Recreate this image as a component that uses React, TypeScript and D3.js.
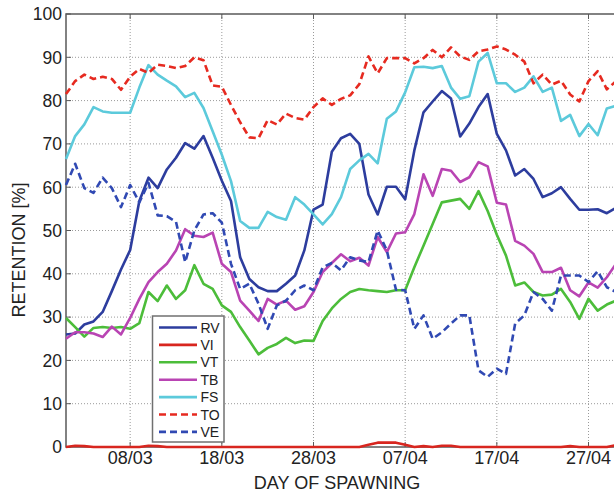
import * as d3 from "d3";

// day index 0 = 01/03, one value per day up to 30/04
const TICK_DAYS = [7, 17, 27, 37, 47, 57];
const TICK_LABELS = ["08/03", "18/03", "28/03", "07/04", "17/04", "27/04"];
const Y_TICKS = [0, 10, 20, 30, 40, 50, 60, 70, 80, 90, 100];

const RV = [26, 26.2, 28.3, 29, 31.2, 36, 41, 45.5, 56.8, 62.2, 59.8, 64.1, 66.8, 70.2, 68.9, 71.8, 66.8, 61.5, 56.8, 43.8, 38.8, 36.9, 36, 36, 37.7, 39.6, 45.4, 54.8, 56, 68.2, 71.3, 72.3, 70, 58.3, 53.7, 60.1, 60.1, 57.2, 68.5, 77.3, 79.8, 82.2, 80.5, 71.7, 74.7, 78.5, 81.5, 72.3, 68.5, 62.7, 64.2, 61.9, 57.7, 58.6, 60, 57.3, 54.8, 54.8, 54.9, 54, 55.2];
const VI = [0, 0.3, 0.2, 0, 0, 0, 0, 0, 0, 0.3, 0.2, 0, 0, 0, 0, 0, 0, 0, 0, 0, 0, 0, 0, 0, 0, 0, 0, 0, 0, 0, 0, 0, 0, 0.5, 1, 1, 1, 0.5, 0, 0.2, 0, 0.3, 0.3, 0, 0, 0, 0, 0, 0, 0, 0, 0, 0, 0, 0, 0.2, 0, 0, 0, 0, 0.4];
const VT = [29.8, 27.7, 25.5, 27.5, 27.7, 27.5, 27.7, 27.3, 28.6, 35.8, 33.7, 37.3, 34.2, 36.2, 42, 37.7, 36.5, 32.7, 31.2, 27.7, 24.6, 21.4, 22.9, 23.8, 25.2, 24, 24.6, 24.5, 29.1, 32, 34.2, 35.8, 36.5, 36.2, 36, 35.8, 36.2, 36.2, 41.5, 46.5, 51.5, 56.5, 56.9, 57.3, 55, 59.1, 54.5, 49, 44.2, 37.3, 38, 35.8, 35, 35.2, 36.5, 33.5, 29.6, 34.2, 31.5, 32.9, 33.8];
const TB = [25, 26.5, 26.5, 26.2, 25.4, 27.8, 26, 29.8, 34.2, 38.1, 40.4, 42.3, 45.4, 50.3, 48.8, 48.5, 49.5, 42.3, 40.4, 33.8, 31.5, 29.1, 34.2, 32.9, 33.8, 31.7, 32.5, 35.8, 40.4, 42.5, 44.5, 42.9, 43.7, 41.9, 48.5, 45, 49.3, 49.6, 53.8, 63, 58, 64.2, 63.8, 61.2, 62.3, 65.8, 64.8, 56.4, 56, 47.6, 46.5, 44.6, 40.4, 40.4, 41.4, 36.2, 34.8, 38, 36.8, 39.2, 42.3];
const FS = [66.5, 71.8, 74.5, 78.5, 77.5, 77.2, 77.2, 77.2, 83, 88.2, 86, 84.6, 83.3, 80.8, 81.8, 78.3, 72.9, 67.5, 61.4, 52.2, 50.6, 50.6, 54.3, 53.1, 52.5, 57.7, 56, 53.7, 51.4, 53.8, 57.7, 64.2, 66.2, 67.7, 65.5, 75.8, 77.5, 81.9, 87.7, 87.8, 87.5, 88, 83, 80.4, 81, 89, 91, 84, 84, 82, 83, 85.6, 82, 83, 75.3, 76.7, 71.8, 74.6, 72, 78.2, 78.8];
const TO = [81.5, 84.5, 86, 85, 85.5, 85, 82.5, 85.5, 87.3, 86.4, 88.3, 88, 87.5, 88, 90, 89.3, 83.5, 83.2, 79, 75, 71.5, 71.3, 75.5, 74.5, 77, 76, 75.6, 78.5, 80.5, 79, 80.4, 81.2, 83.8, 90.2, 86.3, 89.8, 89.8, 89.8, 88.6, 89.8, 91.7, 90, 92.3, 90.2, 89.4, 91.4, 91.8, 92.5, 91.8, 90.6, 89, 84, 86, 83.7, 84.6, 81.4, 79.8, 84.5, 86.8, 82.6, 84.5];
const VE = [60.5, 65.4, 59.8, 58.7, 62.2, 59.8, 55.4, 60.5, 56.5, 61, 53.5, 53.3, 52, 42.7, 50, 53.7, 54, 51.8, 42.3, 36.5, 37.7, 33.1, 27.3, 32.7, 33.8, 36.2, 37.3, 36.2, 41.5, 42.5, 40.8, 43.8, 43.1, 42.7, 50, 45.4, 36.3, 36.2, 27.3, 30.4, 25, 26.5, 28.5, 30.4, 30.4, 17.7, 16.2, 18.1, 16.9, 28.5, 30.4, 35.8, 34.2, 31.5, 39.6, 39.6, 39.6, 38.1, 40.6, 36.9, 35.8];

const SERIES = [
  { name: "RV", values: RV, color: "#2d3d9e", dash: "" },
  { name: "VI", values: VI, color: "#d8261f", dash: "" },
  { name: "VT", values: VT, color: "#4cbd3a", dash: "" },
  { name: "TB", values: TB, color: "#b944b3", dash: "" },
  { name: "FS", values: FS, color: "#5ccadb", dash: "" },
  { name: "TO", values: TO, color: "#e62a20", dash: "7,4" },
  { name: "VE", values: VE, color: "#3049b3", dash: "7,4" },
];

const W = 614;
const H = 497;
const M = { left: 66, top: 14, right: 616, bottom: 447 };
const FONT = "'Liberation Sans', Arial, sans-serif";

export default function App() {
  const x = d3.scaleLinear().domain([0, 60]).range([M.left, M.right]);
  const y = d3.scaleLinear().domain([0, 100]).range([M.bottom, M.top]);

  const line = d3
    .line<number>()
    .x((_, i) => x(i))
    .y((v) => y(v));

  const legX = 152.5;
  const legY = 316;
  const legStep = 17.4;

  return (
    <svg
      width={W}
      height={H}
      style={{ position: "absolute", left: 0, top: 0, background: "#fff" }}
      fontFamily={FONT}
    >
      <rect width={W} height={H} fill="#fff" />
      {/* grid */}
      {Y_TICKS.slice(1, -1).map((t) => (
        <line key={"gy" + t} x1={M.left} x2={M.right} y1={y(t)} y2={y(t)}
          stroke="#9a9a9a" strokeWidth={1} strokeDasharray="1,2" />
      ))}
      {TICK_DAYS.map((d) => (
        <line key={"gx" + d} x1={x(d)} x2={x(d)} y1={M.top} y2={M.bottom}
          stroke="#9a9a9a" strokeWidth={1} strokeDasharray="1,2" />
      ))}
      {/* frame */}
      <rect x={M.left} y={M.top} width={M.right - M.left} height={M.bottom - M.top}
        fill="none" stroke="#5a5a5a" strokeWidth={1.5} />
      {Y_TICKS.map((t) => (
        <g key={"ty" + t}>
          <line x1={M.left} x2={M.left + 5} y1={y(t)} y2={y(t)} stroke="#5a5a5a" />
          <text x={M.left - 4} y={y(t)} dy="0.36em" textAnchor="end" fontSize={17.5} fill="#222">
            {t}
          </text>
        </g>
      ))}
      {TICK_DAYS.map((d, i) => (
        <g key={"tx" + d}>
          <line x1={x(d)} x2={x(d)} y1={M.bottom} y2={M.bottom - 5} stroke="#5a5a5a" />
          <line x1={x(d)} x2={x(d)} y1={M.top} y2={M.top + 5} stroke="#5a5a5a" />
          <text x={x(d)} y={464} textAnchor="middle" fontSize={18} fill="#222">
            {TICK_LABELS[i]}
          </text>
        </g>
      ))}
      {/* series */}
      {SERIES.map((s) => (
        <path key={s.name} d={line(s.values) ?? ""} fill="none" stroke={s.color}
          strokeWidth={2.6} strokeDasharray={s.dash || undefined} strokeLinejoin="round" />
      ))}
      {/* legend */}
      <rect x={legX} y={legY} width={71.5} height={126} fill="#fff" stroke="#707070" strokeWidth={1.5} />
      {SERIES.map((s, i) => {
        const ly = legY + 11.5 + i * legStep;
        return (
          <g key={"leg" + s.name}>
            <line x1={legX + 6.5} x2={legX + 44.5} y1={ly} y2={ly} stroke={s.color}
              strokeWidth={2.6} strokeDasharray={s.dash || undefined} />
            <text x={legX + 48} y={ly} dy="0.36em" fontSize={14} fill="#222">{s.name}</text>
          </g>
        );
      })}
      {/* axis titles */}
      <text transform="translate(25,250) rotate(-90)" textAnchor="middle" fontSize={18} fill="#222">
        RETENTION [%]
      </text>
      <text x={337} y={489} textAnchor="middle" fontSize={18} fill="#222">
        DAY OF SPAWNING
      </text>
    </svg>
  );
}
